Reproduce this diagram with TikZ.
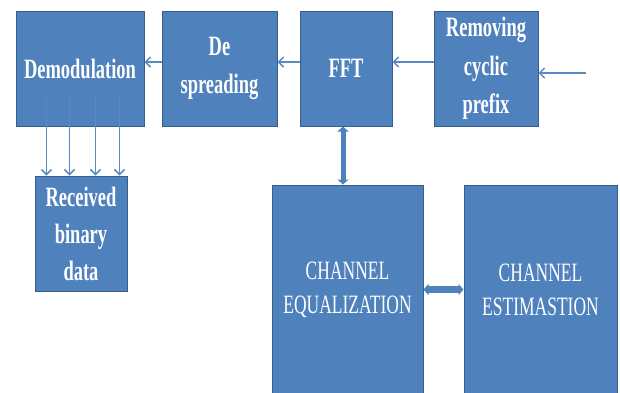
\documentclass[tikz,border=0pt]{standalone}
\usepackage{fontspec}
\setmainfont{Liberation Serif}[FakeStretch=0.66]
\usetikzlibrary{arrows.meta,calc}

\definecolor{boxblue}{HTML}{4F81BD}
\definecolor{boxedge}{HTML}{385D8A}
\definecolor{lineblue}{HTML}{5A8AC6}

\begin{document}
\begin{tikzpicture}[x=1pt,y=1pt,
    blk/.style={draw=boxedge,line width=1pt,fill=boxblue,text=white,align=center,
      inner sep=0pt,font=\fontsize{28}{38.5}\selectfont\bfseries},
    bigblk/.style={blk,font=\fontsize{26.5}{34}\selectfont},
    sig/.style={draw=lineblue,line width=1.5pt,-{Straight Barb[length=5pt,width=10pt]}},
    link/.style={draw=boxblue,line width=5pt,
      {Triangle[length=5pt,width=11pt]}-{Triangle[length=5pt,width=11pt]}}]
      \useasboundingbox (0,0) rectangle (620,-392);
      \clip (0,0) rectangle (620,-392);
      \node [blk, minimum width=128, minimum height=115] (demod) at (80,-68.5) {Demodulation};
      \node [blk, minimum width=115, minimum height=115] (desp) at (219.5,-68.5) {De\\spreading};
      \node [blk, minimum width=92, minimum height=115] (fft) at (346,-68.5) {FFT};
      \node [blk, minimum width=104, minimum height=115] (rcp) at (486,-68.5) {Removing\\cyclic\\prefix};
      \node [blk, minimum width=92, minimum height=115, font=\fontsize{28}{37}\selectfont\bfseries]
        (rx) at (81,-233.5) {Received\\binary\\data};
      \node [bigblk, minimum width=151, minimum height=209] (cheq) at (347.5,-289.5) {CHANNEL\\EQUALIZATION};
      \node [bigblk, minimum width=153, minimum height=209] (ches) at (540.5,-289.5) {CHANNEL\\ESTIMASTION};
      \coordinate (in) at (586,-73);
      \draw [sig] (in) -- (in -| rcp.east);
      \draw [sig] ([yshift=6.5pt]rcp.west) -- ([yshift=6.5pt]fft.east);
      \draw [sig] ([yshift=6.5pt]fft.west) -- ([yshift=6.5pt]desp.east);
      \draw [sig] ([yshift=6.5pt]desp.west) -- ([yshift=6.5pt]demod.east);
      \foreach \dx in {12,35,61,85}
        \draw [sig] ($(rx.north west |- demod.south)+(\dx,34)$) -- ($(rx.north west)+(\dx,0)$);
      \draw [link] ([xshift=-3pt]fft.south) -- ([xshift=-3pt]fft.south |- cheq.north);
      \draw [link, line width=7pt] (cheq.east) -- (ches.west);
    \end{tikzpicture}
\end{document}
